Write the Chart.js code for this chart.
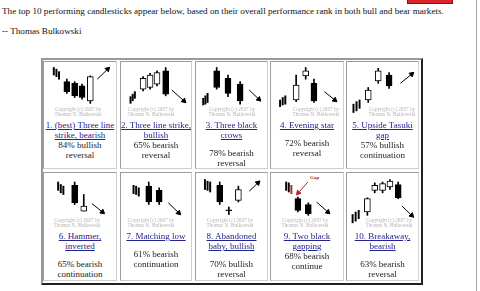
<!DOCTYPE html>
<html>
<head>
<meta charset="utf-8">
<script src="https://cdn.jsdelivr.net/npm/chart.js@4.4.1/dist/chart.umd.min.js"></script>
<style>
  body { margin: 0; width: 480px; height: 291px; overflow: hidden; background: #fff; position: relative;
         font-family: "Liberation Serif", "Times New Roman", serif; color: #111; }
  .txt { position: absolute; font-size: 9.15px; line-height: 10px; white-space: nowrap; }
  #redBtn { position: absolute; left: 407px; top: -3px; width: 44px; height: 5px; background: #d8262c; border: 1px solid #8a1010; }
  #edge { position: absolute; left: 476px; top: 0; width: 1px; height: 291px; background: #a8a8a8; }
  #grid { position: absolute; left: 41px; top: 58px; width: 378px; height: 223px; background: #fff;
          border: 2px solid; border-color: #999 #222 #222 #999; }
  .cell { position: absolute; box-sizing: border-box; border: 1px solid; border-color: #9c9c9c #cfcfcf #cfcfcf #9c9c9c; }
  .label { position: absolute; text-align: center; font-size: 9px; line-height: 10px; white-space: nowrap; color: #1c1c1c; }
  .label a { color: #24248f; text-decoration: underline; }
  .label .gap { height: 8px; }
  .copy { position: absolute; width: 60px; text-align: center; font-size: 5.2px; line-height: 5.4px; color: #b4b4b4; white-space: nowrap; }
  canvas { position: absolute; }
  #gapTag { position: absolute; left: 310px; top: 175px; font: bold 5px "Liberation Serif", serif; color: #b3262a; }
</style>
</head>
<body>
<div id="redBtn"></div>
<div id="edge"></div>
<div class="txt" style="left:2px; top:6px;">The top 10 performing candlesticks appear below, based on their overall performance rank in both bull and bear markets.</div>
<div class="txt" style="left:2px; top:26px;">-- Thomas Bulkowski</div>
<div id="grid"></div>
<div id="gapTag">Gap</div>

<script>
// pattern names (as two link lines) and their results
const titles = [
  ['1. (best) Three line', 'strike, bearish'],
  ['2. Three line strike,', 'bullish'],
  ['3. Three black', 'crows'],
  ['4. Evening star'],
  ['5. Upside Tasuki', 'gap'],
  ['6. Hammer,', 'inverted'],
  ['7. Matching low'],
  ['8. Abandoned', 'baby, bullish'],
  ['9. Two black', 'gapping'],
  ['10. Breakaway,', 'bearish'],
];
const successRates = [84, 65, 78, 72, 57, 65, 61, 70, 68, 63];
const directions = ['bullish', 'bearish', 'bearish', 'bearish', 'bullish', 'bearish', 'bearish', 'bullish', 'bearish', 'bearish'];
const outcomes = ['reversal', 'reversal', 'reversal', 'reversal', 'continuation', 'continuation', 'continuation', 'reversal', 'continue', 'reversal'];

// candles: [x, open, high, low, close]
const c1 = [[24, 32, 35, 18, 20], [33, 30, 32, 13, 15], [41.5, 27, 29, 11, 13], [51, 9, 39, 6, 38]];
const c2 = [[22, 23, 38, 21, 36], [30, 25, 42, 23, 40], [38, 29, 45, 27, 43], [48, 45, 49, 15, 17]];
const c3 = [[21.5, 45, 49, 23, 25], [34.5, 36, 40, 14, 18], [48.5, 29, 32, 5, 9]];
const c4 = [[25.5, 10, 40, 8, 28], [36.5, 39, 49, 35, 45], [46, 30, 35, 7, 9]];
const c5 = [[21, 10, 25, 7, 22], [32.5, 33, 48, 30, 45], [45, 40, 43, 24, 27]];
const c6 = [[33, 42, 46, 19, 21], [43.5, 11, 31, 11, 17]];
const c7 = [[28.5, 41, 46, 19, 22], [40.5, 36, 39, 19, 22]];
const c8 = [[25, 42, 46, 19, 22], [35.5, 12.5, 16, 7, 11.5], [46.5, 24, 41, 22, 37]];
const c9 = [[27.5, 26, 28, 10, 12], [39.5, 19, 21, 6, 8]];
const c10 = [[20, 10, 27, 6, 26], [28.5, 36, 45, 33, 42], [37.5, 36, 46, 33, 44], [46, 40, 49, 37, 47], [55.5, 43, 46, 26, 27]];

// prior trend strokes: [x, low, high]
const t1 = [[9, 40, 49], [12, 38, 47], [15, 35, 44]];
const t2 = [[7.5, 6, 14], [10, 9, 17], [12.5, 12, 20]];
const t3 = [[6, 4, 12], [8.5, 5, 15], [11, 7, 18]];
const t4 = [[7, 2, 10], [10, 4, 13], [13, 5, 15]];
const t5 = [[4, -5, 5], [7.5, -3, 8], [11, 0, 10]];
const t6 = [[14, 36, 46], [17, 33, 43], [20, 31, 41]];
const t7 = [[11, 32, 42], [14, 31, 41], [17, 29, 39]];
const t8 = [[8, 37, 49], [11, 36, 47], [14, 34, 46]];
const t9 = [[14, 36, 46], [17, 34, 45]];
const t10 = [[3, -3, 7], [6.5, -1, 10], [10, 2, 12]];
const gapTick9 = [[20, 32, 42]];

// expected move arrows: [x1, y1, x2, y2]
const a1 = [59, 35, 71, 47];
const a2 = [55, 22, 69, 9];
const a3 = [59, 22, 70, 11];
const a4 = [58, 20, 70, 10];
const a5 = [58, 30, 71, 41];
const a6 = [53, 20, 65, 10];
const a7 = [51, 21, 63, 9];
const a8 = [59, 35, 69, 45];
const a9 = [49, 22, 62, 10];
const a10 = [60, 17, 71, 6];
const gapArrow9 = [39, 46, 28, 33];

const candleSets = [c1, c2, c3, c4, c5, c6, c7, c8, c9, c10];
const tickSets = [t1, t2, t3, t4, t5, t6, t7, t8, t9, t10];
const arrowSets = [a1, a2, a3, a4, a5, a6, a7, a8, a9, a10];

// layout
const cellLeft = [43, 120, 195, 270, 346];
const cellWidth = [74, 72, 73, 74, 73];
const rowTop = [61, 172];
const rowHeight = [108, 109];
const chartLeft = [41, 119, 193, 269, 345];
const chartTop = [60, 172];
const copyCenter = [78, 151, 232, 316, 392, 77, 151, 230, 305, 389];
const blankAfterTitle = [false, false, true, true, false, true, true, true, false, true];

function arrowDataset(a, color) {
  const angle = Math.atan2(a[2] - a[0], a[3] - a[1]) * 180 / Math.PI;
  return {
    type: 'line',
    data: [{ x: a[0], y: a[1] }, { x: a[2], y: a[3] }],
    borderColor: color,
    borderWidth: 1,
    pointRadius: [0, 2.8],
    pointStyle: 'triangle',
    pointRotation: [0, angle],
    pointBackgroundColor: color,
    pointBorderColor: color,
    pointBorderWidth: 1,
    order: 0,
    clip: false,
  };
}

function tickDataset(ticks, color) {
  return {
    type: 'bar',
    data: ticks.map((t) => ({ x: t[0], y: [t[1], t[2]] })),
    backgroundColor: color,
    barThickness: 1.3,
    grouped: false,
    order: 2,
    clip: false,
  };
}

function drawPattern(i) {
  const col = i % 5;
  const row = Math.floor(i / 5);
  const candles = candleSets[i];

  const canvas = document.createElement('canvas');
  canvas.width = 76;
  canvas.height = 60;
  canvas.style.left = chartLeft[col] + 'px';
  canvas.style.top = chartTop[row] + 'px';
  document.body.appendChild(canvas);

  const datasets = [
    {
      type: 'bar',
      data: candles.map((c) => ({ x: c[0], y: [c[1], c[4]] })),
      backgroundColor: (ctx) => {
        const c = candles[ctx.dataIndex];
        return c && c[4] > c[1] ? '#fff' : '#000';
      },
      borderColor: '#000',
      borderWidth: 1,
      borderSkipped: false,
      barThickness: 6,
      grouped: false,
      order: 1,
      clip: false,
    },
    {
      type: 'bar',
      data: candles.map((c) => ({ x: c[0], y: [c[3], c[2]] })),
      backgroundColor: '#000',
      barThickness: 1,
      grouped: false,
      order: 2,
      clip: false,
    },
    tickDataset(tickSets[i], '#000'),
    arrowDataset(arrowSets[i], '#000'),
  ];
  if (i === 8) {
    datasets.push(tickDataset(gapTick9, '#b3262a'));
    datasets.push(arrowDataset(gapArrow9, '#b3262a'));
  }

  new Chart(canvas, {
    type: 'bar',
    data: { datasets: datasets },
    options: {
      responsive: false,
      animation: false,
      events: [],
      layout: { padding: 0 },
      plugins: { legend: { display: false }, tooltip: { enabled: false } },
      scales: {
        x: { type: 'linear', min: 0, max: 76, display: false, offset: false },
        y: { min: -8, max: 52, display: false },
      },
    },
  });
}

function addCell(i) {
  const col = i % 5;
  const row = Math.floor(i / 5);

  const cell = document.createElement('div');
  cell.className = 'cell';
  cell.style.left = cellLeft[col] + 'px';
  cell.style.top = rowTop[row] + 'px';
  cell.style.width = cellWidth[col] + 'px';
  cell.style.height = rowHeight[row] + 'px';
  document.body.appendChild(cell);

  const copy = document.createElement('div');
  copy.className = 'copy';
  copy.style.left = copyCenter[i] - 30 + 'px';
  copy.style.top = rowTop[row] + 46 + 'px';
  copy.innerHTML = 'Copyright (c) 2007 by<br>Thomas N. Bulkowski';
  document.body.appendChild(copy);

  const label = document.createElement('div');
  label.className = 'label';
  label.style.left = cellLeft[col] - 4 + 'px';
  label.style.width = cellWidth[col] + 8 + 'px';
  label.style.top = rowTop[row] + 59 + 'px';
  let html = titles[i].map((t) => `<a href="#">${t}</a>`).join('<br>');
  if (blankAfterTitle[i]) html += '<div class="gap"></div>';
  else html += '<br>';
  html += `${successRates[i]}% ${directions[i]}<br>${outcomes[i]}`;
  label.innerHTML = html;
  document.body.appendChild(label);
}

for (let i = 0; i < 10; i++) {
  addCell(i);
  drawPattern(i);
}
</script>
</body>
</html>
